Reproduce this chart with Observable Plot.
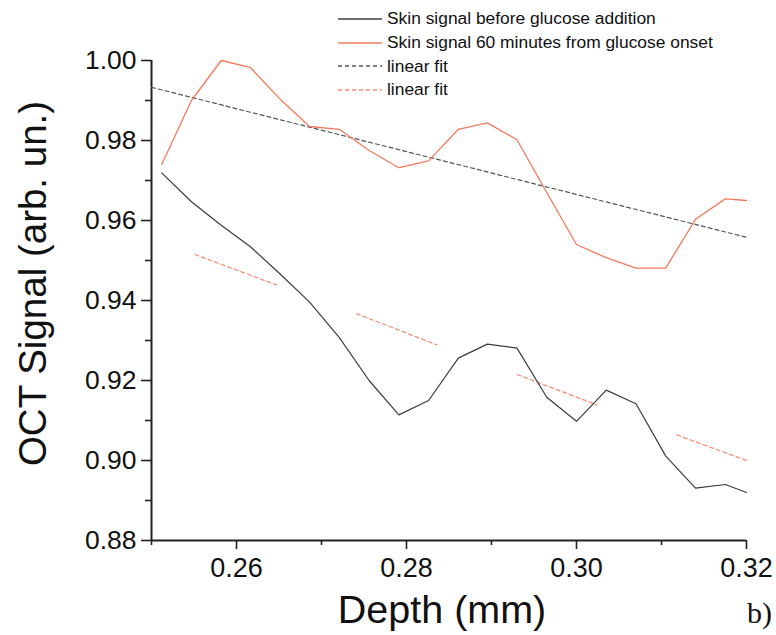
<!DOCTYPE html>
<html>
<head>
<meta charset="utf-8">
<script src="https://cdn.jsdelivr.net/npm/d3@7"></script>
<script src="https://cdn.jsdelivr.net/npm/@observablehq/plot@0.6"></script>
<style>
  html, body { margin: 0; padding: 0; background: #fff; }
  #wrap { position: relative; width: 776px; height: 635px; font-family: "Liberation Sans", Arial, sans-serif; }
  #legend { position: absolute; left: 338px; top: 7px; font-size: 17.4px; color: #111; }
  .row { display: flex; align-items: center; height: 23.7px; }
  .row svg { width: 44px; height: 6px; margin-right: 5px; }
  #tag { position: absolute; left: 747px; top: 596px; font-family: "Liberation Serif", "Times New Roman", serif; font-size: 30px; color: #111; }
</style>
</head>
<body>
<div id="wrap"></div>
<script>
// Depth (mm)
const depth = [0.2512, 0.2547, 0.2582, 0.2616, 0.2651, 0.2686, 0.2721, 0.2756, 0.2791, 0.2826, 0.2861,
               0.2895, 0.2930, 0.2965, 0.3000, 0.3035, 0.3070, 0.3105, 0.3140, 0.3175, 0.3200];
// Skin signal before glucose addition
const before = [0.9719, 0.9647, 0.9588, 0.9535, 0.9467, 0.9396, 0.9307, 0.9200, 0.9114, 0.9150, 0.9256,
                0.9291, 0.9281, 0.9158, 0.9098, 0.9176, 0.9142, 0.9011, 0.8931, 0.8940, 0.8920];
// Skin signal 60 minutes from glucose onset
const after = [0.9740, 0.9900, 1.0000, 0.9983, 0.9904, 0.9835, 0.9828, 0.9775, 0.9732, 0.9749, 0.9828,
               0.9844, 0.9802, 0.9670, 0.9540, 0.9507, 0.9481, 0.9481, 0.9603, 0.9654, 0.9650];
// linear fit (black dashed)
const fitBlackX = [0.25, 0.32];
const fitBlackY = [0.9933, 0.9558];
// linear fit (red dashed) segments
const fitRedSeg = [1, 1, 2, 2, 3, 3, 4, 4];
const fitRedX = [0.2551, 0.2647, 0.2741, 0.2836, 0.2930, 0.3024, 0.3118, 0.3200];
const fitRedY = [0.9515, 0.9439, 0.9367, 0.9289, 0.9215, 0.9139, 0.9064, 0.9000];
// ticks
const xMajor = [0.26, 0.28, 0.30, 0.32];
const xMinor = [0.25, 0.27, 0.29, 0.31];
const yMajor = [0.88, 0.90, 0.92, 0.94, 0.96, 0.98, 1.00];
const yMinor = [0.89, 0.91, 0.93, 0.95, 0.97, 0.99];

const legendItems = [
  {label: "Skin signal before glucose addition", color: "#3c3c3c", dash: null},
  {label: "Skin signal 60 minutes from glucose onset", color: "#f47a5e", dash: null},
  {label: "linear fit", color: "#555555", dash: "4,3"},
  {label: "linear fit", color: "#f58a72", dash: "4,3"}
];

const lineData = depth.map((d, i) => ({d, before: before[i], after: after[i]}));
const fitB = fitBlackX.map((x, i) => ({x, y: fitBlackY[i]}));
const fitR = fitRedX.map((x, i) => ({x, y: fitRedY[i], s: fitRedSeg[i]}));

const chart = Plot.plot({
  width: 776,
  height: 635,
  marginLeft: 151,
  marginRight: 30,
  marginTop: 60,
  marginBottom: 95,
  style: {fontFamily: "Liberation Sans, Arial, sans-serif", color: "#111", background: "white"},
  x: {domain: [0.25, 0.32]},
  y: {domain: [0.88, 1.00]},
  marks: [
    Plot.axisX({ticks: xMajor, tickSize: 9, tickPadding: 8, tickFormat: ".2f", fontSize: 27, label: null, strokeWidth: 1.6, stroke: "#222"}),
    Plot.axisX({ticks: xMinor, tickSize: 5, tickFormat: () => "", label: null, strokeWidth: 1.6, stroke: "#222"}),
    Plot.axisY({ticks: yMajor, tickSize: 10, tickPadding: 5, tickFormat: ".2f", fontSize: 26.5, label: null, strokeWidth: 1.6, stroke: "#222"}),
    Plot.axisY({ticks: yMinor, tickSize: 6, tickFormat: () => "", label: null, strokeWidth: 1.6, stroke: "#222"}),
    Plot.ruleX([0.25], {stroke: "#222", strokeWidth: 2}),
    Plot.ruleY([0.88], {stroke: "#222", strokeWidth: 2}),
    Plot.line(fitB, {x: "x", y: "y", stroke: "#555555", strokeWidth: 1.2, strokeDasharray: "4,3"}),
    Plot.line(fitR, {x: "x", y: "y", z: "s", stroke: "#f58a72", strokeWidth: 1.2, strokeDasharray: "4,3"}),
    Plot.line(lineData, {x: "d", y: "before", stroke: "#3c3c3c", strokeWidth: 1.2}),
    Plot.line(lineData, {x: "d", y: "after", stroke: "#f47a5e", strokeWidth: 1.3}),
    Plot.text(["Depth (mm)"], {frameAnchor: "bottom", textAnchor: "middle", lineAnchor: "bottom", dx: -7, dy: 82, fontSize: 39.5, fill: "#111"}),
    Plot.text(["OCT Signal (arb. un.)"], {frameAnchor: "left", textAnchor: "middle", lineAnchor: "middle", rotate: -90, dx: -118, dy: -17, fontSize: 38.5, fill: "#111"})
  ]
});

const wrap = document.getElementById("wrap");
wrap.appendChild(chart);

const legend = document.createElement("div");
legend.id = "legend";
for (const it of legendItems) {
  const row = document.createElement("div");
  row.className = "row";
  row.innerHTML = `<svg viewBox="0 0 44 6"><line x1="0" x2="44" y1="3" y2="3" stroke="${it.color}" stroke-width="1.3" ${it.dash ? `stroke-dasharray="${it.dash}"` : ""}/></svg><span>${it.label}</span>`;
  legend.appendChild(row);
}
wrap.appendChild(legend);

const tag = document.createElement("div");
tag.id = "tag";
tag.textContent = "b)";
wrap.appendChild(tag);
</script>
</body>
</html>
